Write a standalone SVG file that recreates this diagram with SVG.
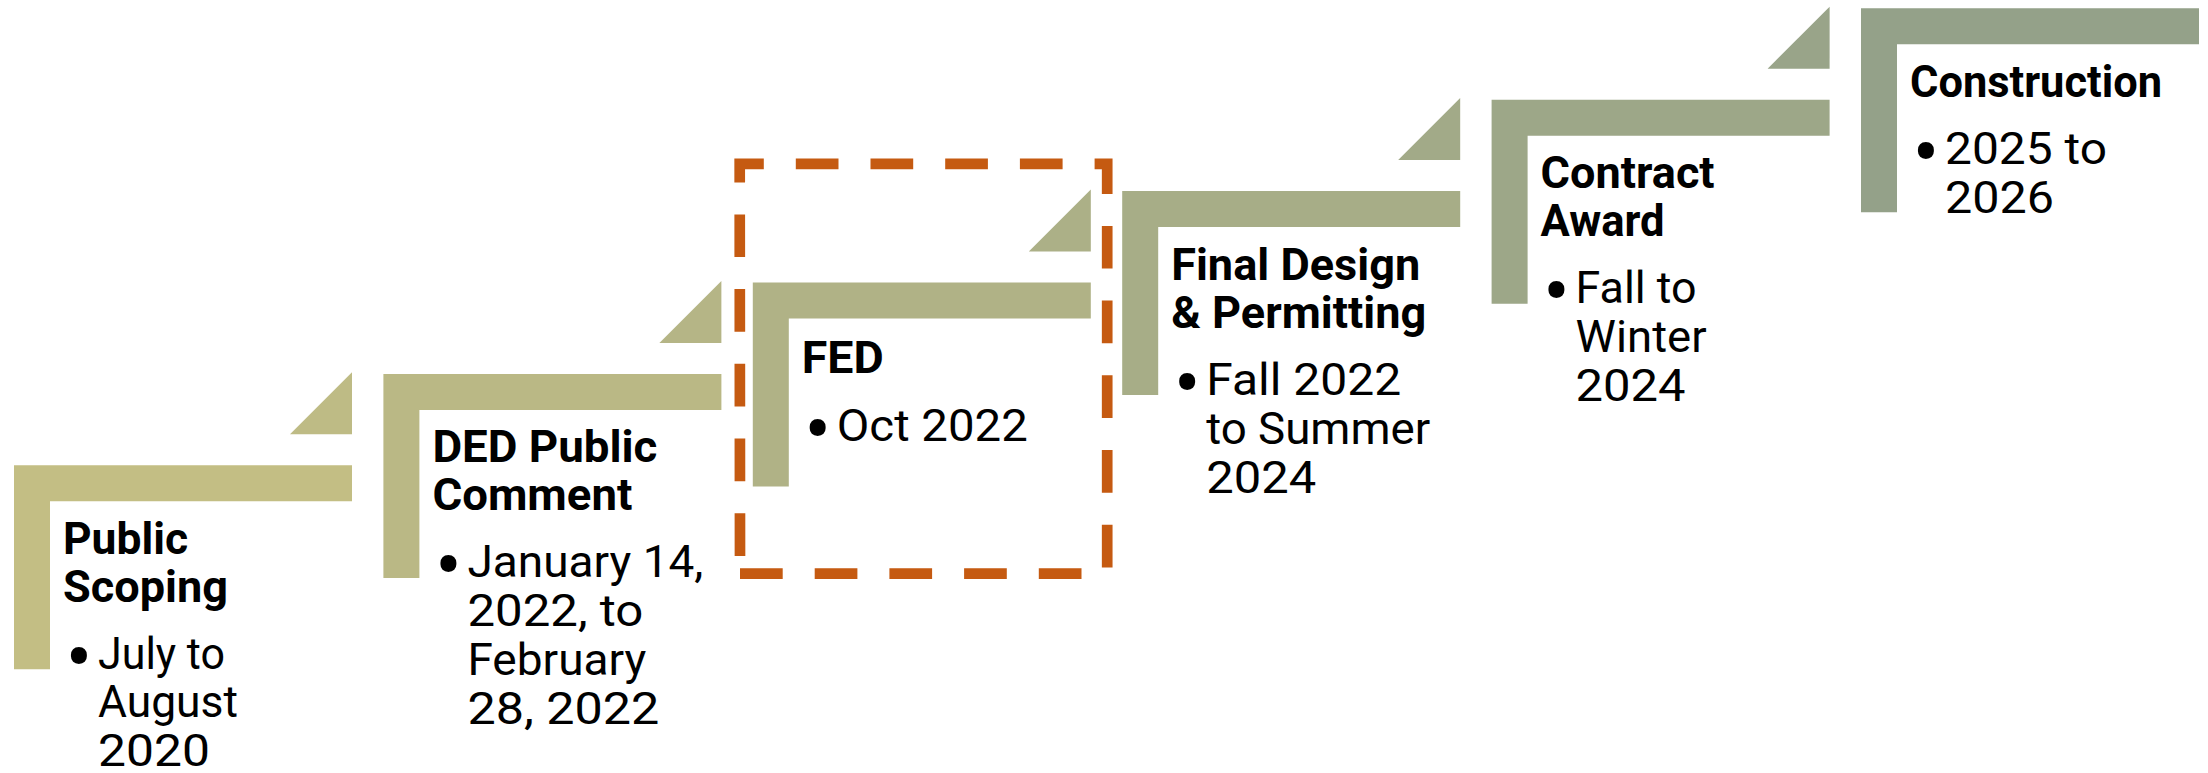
<svg xmlns="http://www.w3.org/2000/svg" width="2208" height="773" viewBox="0 0 2208 773">
<style>
  text { font-family: Roboto, "Liberation Sans", sans-serif; font-size: 44px; fill: #000000; }
  .t { font-weight: bold; }
  .b { font-weight: normal; }
  .dot { font-weight: normal; font-size: 80px; text-anchor: middle; }
  .hl { fill: none; stroke: #C55A11; stroke-width: 10.7; stroke-dasharray: 42.7 32; stroke-linejoin: miter; stroke-linecap: butt; }
</style>
<rect x="0" y="0" width="2208" height="773" fill="#FFFFFF"/>

<g id="connectors">
  <polygon points="352,372.3 352,434.3 290,434.3" fill="#BEBB85"/>
  <polygon points="721.4,280.9 721.4,342.9 659.4,342.9" fill="#B5B586"/>
  <polygon points="1090.8,189.5 1090.8,251.5 1028.8,251.5" fill="#ACB087"/>
  <polygon points="1460.2,98.1 1460.2,160.1 1398.2,160.1" fill="#A2AA88"/>
  <polygon points="1829.6,6.7 1829.6,68.7 1767.6,68.7" fill="#99A489"/>
</g>

<g id="node-public-scoping">
  <path d="M14,465.3 h338 v36 h-302 v168 h-36 Z" fill="#C3BE84"/>
  <text class="t" x="63" y="553.8" textLength="125" lengthAdjust="spacingAndGlyphs">Public</text>
  <text class="t" x="63" y="601.8" textLength="165" lengthAdjust="spacingAndGlyphs">Scoping</text>
  <text class="dot" x="79" y="684.8">•</text>
  <text class="b" x="98" y="668.8" textLength="127" lengthAdjust="spacingAndGlyphs">July to</text>
  <text class="b" x="98" y="717.4" textLength="140" lengthAdjust="spacingAndGlyphs">August</text>
  <text class="b" x="98" y="766" textLength="112" lengthAdjust="spacingAndGlyphs">2020</text>
</g>

<g id="node-ded-public-comment">
  <path d="M383.4,373.9 h338 v36 h-302 v168 h-36 Z" fill="#BAB885"/>
  <text class="t" x="432.4" y="462.4" textLength="225" lengthAdjust="spacingAndGlyphs">DED Public</text>
  <text class="t" x="432.4" y="510.4" textLength="200" lengthAdjust="spacingAndGlyphs">Comment</text>
  <text class="dot" x="448.4" y="593.4">•</text>
  <text class="b" x="467.4" y="577.4" textLength="236" lengthAdjust="spacingAndGlyphs">January 14,</text>
  <text class="b" x="467.4" y="626.4" textLength="176" lengthAdjust="spacingAndGlyphs">2022, to</text>
  <text class="b" x="467.4" y="675.4" textLength="179" lengthAdjust="spacingAndGlyphs">February</text>
  <text class="b" x="467.4" y="724.4" textLength="192" lengthAdjust="spacingAndGlyphs">28, 2022</text>
</g>

<g id="node-fed">
  <path d="M752.8,282.5 h338 v36 h-302 v168 h-36 Z" fill="#B0B286"/>
  <text class="t" x="801.8" y="373" textLength="82" lengthAdjust="spacingAndGlyphs">FED</text>
  <text class="dot" x="817.8" y="457">•</text>
  <text class="b" x="836.8" y="441" textLength="191" lengthAdjust="spacingAndGlyphs">Oct 2022</text>
</g>

<g id="highlight">
  <path class="hl" d="M740,573.7 H1107.2 V163.8 H739.7 Z"/>
</g>

<g id="node-final-design">
  <path d="M1122.2,191.1 h338 v36 h-302 v168 h-36 Z" fill="#A7AD87"/>
  <text class="t" x="1171.2" y="279.6" textLength="249" lengthAdjust="spacingAndGlyphs">Final Design</text>
  <text class="t" x="1171.2" y="327.6" textLength="255" lengthAdjust="spacingAndGlyphs">&amp; Permitting</text>
  <text class="dot" x="1187.2" y="410.6">•</text>
  <text class="b" x="1206.2" y="394.6" textLength="195" lengthAdjust="spacingAndGlyphs">Fall 2022</text>
  <text class="b" x="1206.2" y="443.6" textLength="224" lengthAdjust="spacingAndGlyphs">to Summer</text>
  <text class="b" x="1206.2" y="492.6" textLength="110" lengthAdjust="spacingAndGlyphs">2024</text>
</g>

<g id="node-contract-award">
  <path d="M1491.6,99.7 h338 v36 h-302 v168 h-36 Z" fill="#9DA788"/>
  <text class="t" x="1540.6" y="188.2" textLength="174" lengthAdjust="spacingAndGlyphs">Contract</text>
  <text class="t" x="1540.6" y="236.2" textLength="124" lengthAdjust="spacingAndGlyphs">Award</text>
  <text class="dot" x="1556.6" y="319.2">•</text>
  <text class="b" x="1575.6" y="303.2" textLength="121" lengthAdjust="spacingAndGlyphs">Fall to</text>
  <text class="b" x="1575.6" y="352.2" textLength="131" lengthAdjust="spacingAndGlyphs">Winter</text>
  <text class="b" x="1575.6" y="401.2" textLength="110" lengthAdjust="spacingAndGlyphs">2024</text>
</g>

<g id="node-construction">
  <path d="M1861,8.3 h338 v36 h-302 v168 h-36 Z" fill="#94A189"/>
  <text class="t" x="1910" y="96.8" textLength="252" lengthAdjust="spacingAndGlyphs">Construction</text>
  <text class="dot" x="1926" y="179.8">•</text>
  <text class="b" x="1945" y="163.8" textLength="162" lengthAdjust="spacingAndGlyphs">2025 to</text>
  <text class="b" x="1945" y="212.8" textLength="109" lengthAdjust="spacingAndGlyphs">2026</text>
</g>
</svg>
